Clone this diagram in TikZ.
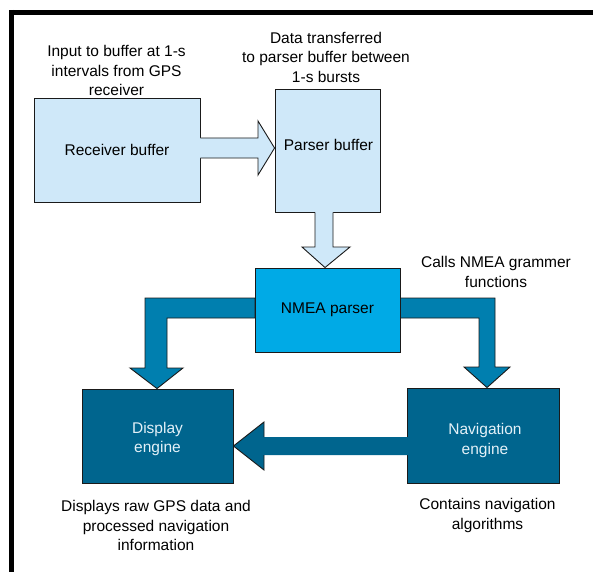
\documentclass[tikz,border=0pt]{standalone}
\usepackage{fontspec}
\setmainfont{Liberation Sans}
\usetikzlibrary{calc}
\definecolor{lightfill}{HTML}{CFE8F9}
\definecolor{nmeafill}{HTML}{00AAE6}
\definecolor{elbowfill}{HTML}{007FAF}
\definecolor{enginefill}{HTML}{00658E}
\definecolor{enginetext}{HTML}{E4F1F8}
\definecolor{edge}{HTML}{1A1A1A}
\begin{document}
\begin{tikzpicture}[x=1pt,y=-1pt,
  txt/.style={align=center, inner sep=0pt, font=\fontsize{15.5}{19.5}\selectfont},
  box/.style={txt, draw=edge, line width=0.9pt},
  outl/.style={draw=edge, line width=0.9pt, line join=miter},
]
\useasboundingbox (0,0) rectangle (593,572);
\fill[white] (0,0) rectangle (593,572);
% frame
\draw[line width=5pt] (9.4,12.5) -- (593,12.5);
\draw[line width=4.7pt] (11.7,10) -- (11.7,572);

% node positions
\node[box, fill=lightfill, minimum width=166pt, minimum height=104pt] (rb) at (117,150) {Receiver buffer};
\node[box, fill=lightfill, minimum width=105pt, minimum height=123pt] (pb) at (327.5,150.5) {};
\node[txt] (pbt) at (328.5,145) {Parser buffer};
\node[box, fill=enginefill, minimum width=151pt, minimum height=94pt] (de) at (157.5,436) {};
\node[txt, text=enginetext] (det) at (157.5,439) {Display\\engine};
\node[box, fill=enginefill, minimum width=152pt, minimum height=95pt] (ne) at (483,435.5) {};
\node[txt, text=enginetext] (net) at (485,440.5) {Navigation\\engine};

% elbow arrows (behind the NMEA box)
\draw[outl, fill=elbowfill] (255,298) -- (145,298) -- (145,368) -- (130,368) -- (de.north -| 157,0) -- (183,368) -- (167,368) -- (167,318) -- (255,318) -- cycle;
\draw[outl, fill=elbowfill] (400,298) -- (495,298) -- (495,367) -- (510,367) -- (ne.north -| 487,0) -- (464,367) -- (479,367) -- (479,318) -- (400,318) -- cycle;

\node[box, fill=nmeafill, minimum width=145pt, minimum height=84pt] (nm) at (327.5,310) {NMEA parser};

% receiver -> parser
\fill[lightfill] ($(rb.east |- 0,138)+(-1.5,0)$) -- (258,138) -- (258,121) -- (pb.west |- 0,148) -- (258,175) -- (258,158) -- ($(rb.east |- 0,158)+(-1.5,0)$) -- cycle;
\draw[outl] (rb.east |- 0,138) -- (258,138) -- (258,121) -- (pb.west |- 0,148) -- (258,175) -- (258,158) -- (rb.east |- 0,158);

% parser -> NMEA
\fill[lightfill] ($(pb.south -| 315,0)+(0,-1.5)$) -- (315,247) -- (302,247) -- (nm.north -| 325,0) -- (350,247) -- (333,247) -- ($(pb.south -| 333,0)+(0,-1.5)$) -- cycle;
\draw[outl] (pb.south -| 315,0) -- (315,247) -- (302,247) -- (nm.north -| 325,0) -- (350,247) -- (333,247) -- (pb.south -| 333,0);

% navigation -> display
\fill[enginefill] ($(ne.west |- 0,437)+(1.5,0)$) -- (264,437) -- (264,422) -- (de.east |- 0,446) -- (264,470) -- (264,455) -- ($(ne.west |- 0,455)+(1.5,0)$) -- cycle;
\draw[outl] (264,437) -- (264,422) -- (de.east |- 0,446) -- (264,470) -- (264,455);

% labels
\node[txt] (l1) at (116.5,70.5) {Input to buffer at 1-s\\intervals from GPS\\receiver};
\node[txt] (l2) at (326,57) {Data transferred\\to parser buffer between\\1-s bursts};
\node[txt] (l3) at (496,272) {Calls NMEA grammer\\functions};
\node[txt] (l4) at (156,525.5) {Displays raw GPS data and\\processed navigation\\information};
\node[txt] (l5) at (487.5,515.5) {Contains navigation\\algorithms};
\end{tikzpicture}
\end{document}
